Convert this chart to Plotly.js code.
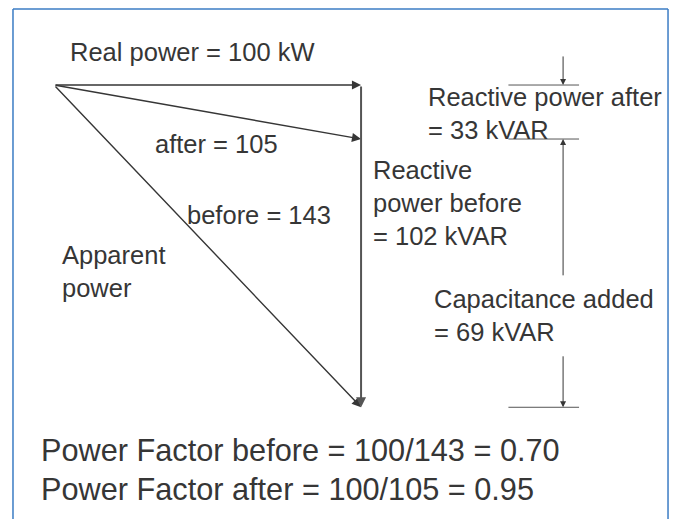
<!DOCTYPE html>
<html>
<head>
<meta charset="utf-8">
<script src="https://cdn.plot.ly/plotly-3.0.1.min.js"></script>
<style>
  html, body { margin: 0; padding: 0; background: #fff; }
  #plot { width: 673px; height: 519px; }
</style>
</head>
<body>
<div id="plot"></div>
<script>
// power values (kW / kVAR)
const realPower = 100;
const apparentBefore = 143;
const apparentAfter = 105;
const reactiveBefore = 102;
const reactiveAfter = 33;
const capacitanceAdded = 69;

// diagram geometry (drawing units, origin at the vertex, not to scale)
const vectorNames = ['real', 'after', 'before'];
const vectorTipX = [100, 100, 100];
const vectorTipY = [0, -17.6, -105];

// dimension marks on the right
const dimLevels = [0, -17.6, -105];
const dimSpan = [148, 171];
const dimArrowX = 165.8;
const dimArrowFrom = [9.8, -62.5, -87.9];
const dimArrowTo = [0, -17.6, -105];

// labels
const labelText = [
    `Real power = ${realPower} kW`,
    `after = ${apparentAfter}`,
    `before = ${apparentBefore}`,
    'Apparent<br>power',
    `Reactive<br>power before<br>= ${reactiveBefore} kVAR`,
    `Reactive power after<br>= ${reactiveAfter} kVAR`,
    `Capacitance added<br>= ${capacitanceAdded} kVAR`
];
const labelX = [5.0, 32.7, 43.1, 2.4, 103.4, 121.5, 123.4];
const labelY = [15.6, -14.3, -37.4, -50.4, -22.9, 1.0, -64.8];

const pfText = [
    `Power Factor before = ${realPower}/${apparentBefore} = ${(realPower / apparentBefore).toFixed(2)}`,
    `Power Factor after = ${realPower}/${apparentAfter} = ${(realPower / apparentAfter).toFixed(2)}`
];
const pfX = [-4.7, -4.7];
const pfY = [-113.1, -125.7];

const ink = '#363636';
const font = { family: 'Liberation Sans, Arial, sans-serif', size: 25.5, color: ink };

const annotations = [];

// vectors from the vertex
vectorNames.forEach((name, i) => {
    annotations.push({
        x: vectorTipX[i], y: vectorTipY[i], ax: 0, ay: 0,
        xref: 'x', yref: 'y', axref: 'x', ayref: 'y',
        text: '', showarrow: true, arrowhead: 2, arrowsize: 1.3,
        arrowwidth: 1.4, arrowcolor: ink, standoff: 0
    });
});

// reactive power before (vertical side)
annotations.push({
    x: vectorTipX[2], y: vectorTipY[2], ax: vectorTipX[0], ay: vectorTipY[0],
    xref: 'x', yref: 'y', axref: 'x', ayref: 'y',
    text: '', showarrow: true, arrowhead: 2, arrowsize: 1,
    arrowwidth: 2, arrowcolor: '#555555', standoff: 0
});

// dimension arrows
dimArrowFrom.forEach((from, i) => {
    annotations.push({
        x: dimArrowX, y: dimArrowTo[i], ax: dimArrowX, ay: from,
        xref: 'x', yref: 'y', axref: 'x', ayref: 'y',
        text: '', showarrow: true, arrowhead: 2, arrowsize: 1.2,
        arrowwidth: 1, arrowcolor: ink, standoff: 0
    });
});

labelText.forEach((t, i) => {
    annotations.push({
        x: labelX[i], y: labelY[i], xref: 'x', yref: 'y',
        text: t, showarrow: false, xanchor: 'left', yanchor: 'top',
        align: 'left', borderpad: 0, font: font
    });
});

pfText.forEach((t, i) => {
    annotations.push({
        x: pfX[i], y: pfY[i], xref: 'x', yref: 'y',
        text: t, showarrow: false, xanchor: 'left', yanchor: 'top',
        align: 'left', borderpad: 0, font: { ...font, size: 30.7 }
    });
});

const shapes = dimLevels.map(lv => ({
    type: 'line', xref: 'x', yref: 'y',
    x0: dimSpan[0], x1: dimSpan[1], y0: lv, y1: lv,
    line: { color: '#555555', width: 1 }
}));

// blue frame (open at the bottom)
const frame = { color: '#3b7cc4', width: 1.5 };
shapes.push(
    { type: 'line', xref: 'paper', yref: 'paper', x0: 0.0193, x1: 0.0193, y0: 0, y1: 0.9827, line: frame },
    { type: 'line', xref: 'paper', yref: 'paper', x0: 0.0193, x1: 0.9926, y0: 0.9827, y1: 0.9827, line: frame },
    { type: 'line', xref: 'paper', yref: 'paper', x0: 0.9926, x1: 0.9926, y0: 0, y1: 0.9827, line: frame }
);

const layout = {
    width: 673, height: 519,
    margin: { l: 0, r: 0, t: 0, b: 0 },
    paper_bgcolor: '#ffffff', plot_bgcolor: '#ffffff',
    xaxis: { range: [-17.6, 201.6], visible: false, fixedrange: true },
    yaxis: { range: [-141.4, 27.7], visible: false, fixedrange: true },
    showlegend: false,
    annotations: annotations,
    shapes: shapes
};

Plotly.newPlot('plot', [], layout, { displayModeBar: false, staticPlot: true });
</script>
</body>
</html>
